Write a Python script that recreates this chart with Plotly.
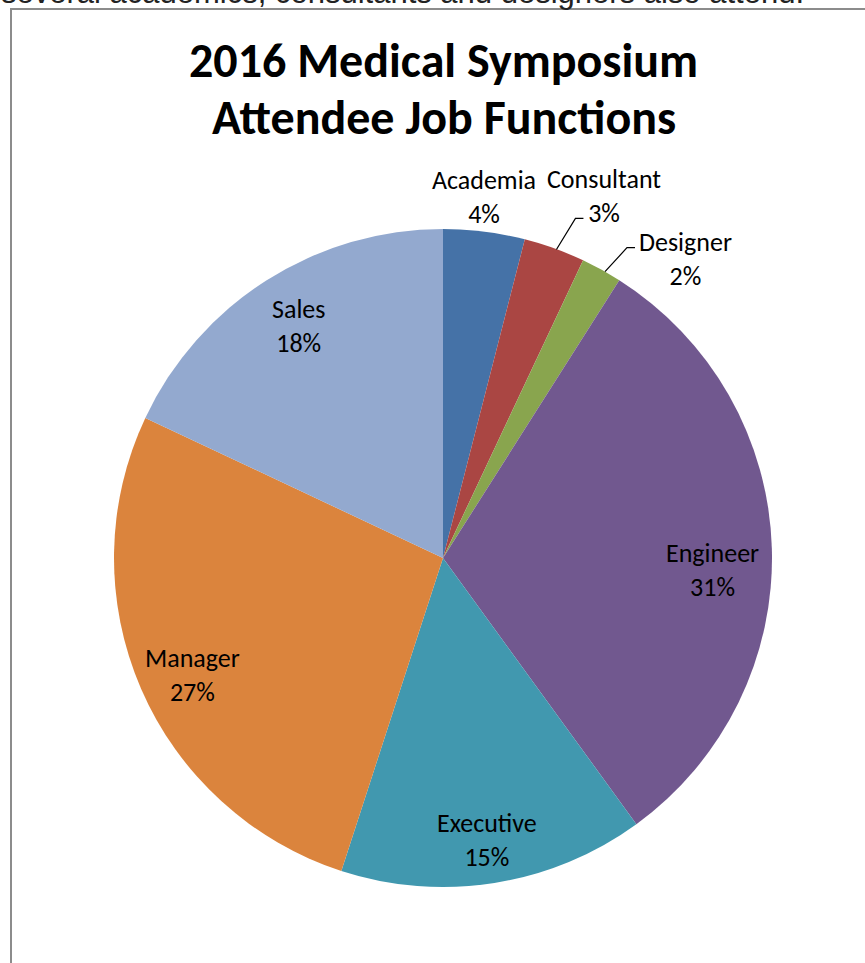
import math
import plotly.graph_objects as go

# ---- data ----
categories = ["Academia", "Consultant", "Designer", "Engineer", "Executive", "Manager", "Sales"]
values = [4, 3, 2, 31, 15, 27, 18]
colors = ["#4572A7", "#AA4643", "#89A54E", "#71588F", "#4198AF", "#DB843D", "#93A9CF"]
title_lines = ["2016 Medical Symposium", "Attendee Job Functions"]
page_text = "several academics, consultants and designers also attend."

# ---- geometry / style ----
W, H = 865, 963
cx, cy, R = 443, 558, 329
FONT = "Calibri, Carlito, Lato, sans-serif"
inside_factor = 0.84
inside_shift = {"Engineer": (-7, 21), "Manager": (3, 7), "Executive": (1, 9), "Sales": (4, 1)}
label_shift = {"Academia": (0, -35), "Consultant": (50, -52), "Designer": (84, -11)}
leaders = {
    "Consultant": [(2, 1), (21, -30), (29, -30)],
    "Designer": [(3.5, 2), (25.5, -22), (33.5, -22)],
}


def px(x):
    return x / W


def py(y):
    return 1 - y / H


fig = go.Figure()
fig.add_trace(go.Pie(
    labels=categories, values=values, sort=False, direction="clockwise", rotation=0,
    marker=dict(colors=colors, line=dict(color="white", width=0)),
    textinfo="none", hoverinfo="label+percent", showlegend=False,
    domain=dict(x=[px(cx - R), px(cx + R)], y=[py(cy + R), py(cy - R)]),
))

annotations = []
shapes = []
total = sum(values)
cum = 0
for cat, v in zip(categories, values):
    mid = (cum + v / 2) / total * 2 * math.pi
    cum += v
    pct = round(v / total * 100)
    text = f"{cat}<br>{pct}%"
    if cat in label_shift:
        ax_ = cx + R * math.sin(mid)
        ay_ = cy - R * math.cos(mid)
        sx, sy = label_shift[cat]
        lx, ly = ax_ + sx, ay_ + sy
        if cat in leaders:
            pts = [(ax_ + dx, ay_ + dy) for dx, dy in leaders[cat]]
            path = "M " + " L ".join(f"{px(x)},{py(y)}" for x, y in pts)
            shapes.append(dict(type="path", xref="paper", yref="paper", path=path,
                               line=dict(color="black", width=1.2)))
    else:
        sx, sy = inside_shift.get(cat, (0, 0))
        lx = cx + R * inside_factor * math.sin(mid) + sx
        ly = cy - R * inside_factor * math.cos(mid) + sy
    annotations.append(dict(x=px(lx), y=py(ly), xref="paper", yref="paper", text=text,
                            showarrow=False, xanchor="center", yanchor="middle",
                            font=dict(family=FONT, size=26, color="black")))

# title
for i, line in enumerate(title_lines):
    annotations.append(dict(x=px(444), y=py(60 + 58 * i), xref="paper", yref="paper", text=f"<b>{line}</b>",
                            showarrow=False, xanchor="center", yanchor="middle",
                            font=dict(family=FONT, size=48, color="black")))

# clipped page text above the chart
annotations.append(dict(x=px(-1), y=py(-8), xref="paper", yref="paper", text=page_text,
                        showarrow=False, xanchor="left", yanchor="middle",
                        font=dict(family="Liberation Sans, Arial, sans-serif", size=31, color="#222")))

# chart frame (continues beyond the visible area)
shapes.append(dict(type="rect", xref="paper", yref="paper", x0=px(11), y0=py(9), x1=1.2, y1=-0.2,
                   line=dict(color="#8c8c8c", width=2), fillcolor="rgba(0,0,0,0)", layer="below"))

fig.update_layout(
    width=W, height=H, margin=dict(l=0, r=0, t=0, b=0),
    paper_bgcolor="white", plot_bgcolor="white",
    annotations=annotations, shapes=shapes,
)

fig.write_html("out.html", config={"displayModeBar": False},
               post_script="document.body.style.margin='0';")
